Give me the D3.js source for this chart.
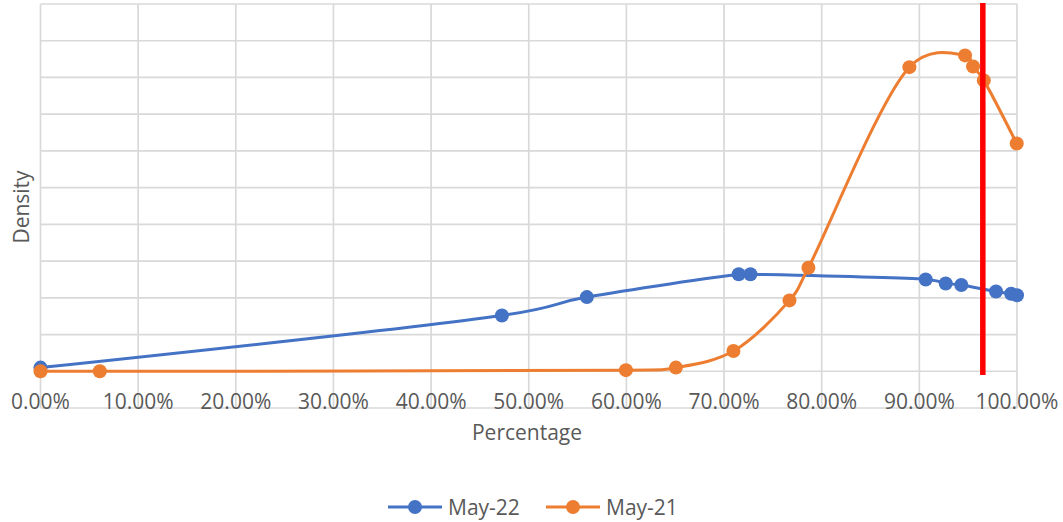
<!DOCTYPE html>
<html><head><meta charset="utf-8">
<script src="https://cdn.jsdelivr.net/npm/d3@7"></script>
<style>
body{margin:0;background:#fff;}
text{font-family:"Open Sans",sans-serif;fill:#595959;}
</style></head>
<body><svg id="c" width="1063" height="522"></svg>
<script>
const xTicks = [0,0.1,0.2,0.3,0.4,0.5,0.6,0.7,0.8,0.9,1.0];
const yGrid = [-1,0,1,2,3,4,5,6,7,8,9,10];
const may22X = [0,0.4725,0.5595,0.715,0.727,0.9065,0.927,0.943,0.9785,0.994,1.0];
const may22Y = [0.1,1.52,2.02,2.64,2.64,2.5,2.39,2.35,2.17,2.11,2.07];
const may21X = [0,0.0607,0.5995,0.6507,0.7096,0.767,0.7864,0.8898,0.9468,0.955,0.966,0.9997];
const may21Y = [0,0,0.03,0.1,0.55,1.93,2.82,8.28,8.6,8.3,7.92,6.2];
const cutoffX = 0.965;
const cutoffRange = [10.03,-0.1];
const seriesNames = ["May-22","May-21"];
const colors = ["#4472C4","#ED7D31"];

const svg = d3.select("#c");
const x = d3.scaleLinear().domain([0,1]).range([40.5,1017]);
const y = d3.scaleLinear().domain([-1,10]).range([408,4]);

// gridlines
svg.append("g").selectAll("line").data(yGrid).join("line")
  .attr("x1",x(0)).attr("x2",x(1)).attr("y1",d=>y(d)).attr("y2",d=>y(d))
  .attr("stroke","#d9d9d9").attr("stroke-width",1.7);
svg.append("g").selectAll("line").data(xTicks).join("line")
  .attr("x1",d=>x(d)).attr("x2",d=>x(d)).attr("y1",y(10)).attr("y2",y(-1))
  .attr("stroke","#d9d9d9").attr("stroke-width",1.7);

// x tick labels
const fmt = d3.format(".2%");
svg.append("g").selectAll("text").data(xTicks).join("text")
  .attr("x",d=>x(d)).attr("y",409).attr("text-anchor","middle")
  .attr("font-size",21).text(d=>fmt(d));

svg.append("text").attr("x",527).attr("y",440).attr("text-anchor","middle")
  .attr("font-size",21).text("Percentage");
svg.append("text").attr("transform","translate(21,207) rotate(-90)")
  .attr("text-anchor","middle").attr("dominant-baseline","central")
  .attr("font-size",21).text("Density");

const line = d3.line().x(d=>x(d[0])).y(d=>y(d[1])).curve(d3.curveCatmullRom.alpha(0.25));
const series = [d3.zip(may22X,may22Y), d3.zip(may21X,may21Y)];
series.forEach((s,i)=>{
  const g = svg.append("g");
  g.append("path").attr("d",line(s)).attr("fill","none")
    .attr("stroke",colors[i]).attr("stroke-width",3).attr("stroke-linecap","round");
  g.selectAll("circle").data(s).join("circle")
    .attr("cx",d=>x(d[0])).attr("cy",d=>y(d[1])).attr("r",7).attr("fill",colors[i]);
});

// cutoff line
svg.append("line").attr("x1",x(cutoffX)).attr("x2",x(cutoffX))
  .attr("y1",y(cutoffRange[0])).attr("y2",y(cutoffRange[1]))
  .attr("stroke","#FF0000").attr("stroke-width",5.5);

// legend
const legX = [388,546];
seriesNames.forEach((n,i)=>{
  const g = svg.append("g").attr("transform",`translate(${legX[i]},507)`);
  g.append("line").attr("x1",0).attr("x2",54).attr("stroke",colors[i]).attr("stroke-width",3);
  g.append("circle").attr("cx",27).attr("r",7).attr("fill",colors[i]);
  g.append("text").attr("x",60).attr("dominant-baseline","central").attr("font-size",21).text(n);
});
</script></body></html>
